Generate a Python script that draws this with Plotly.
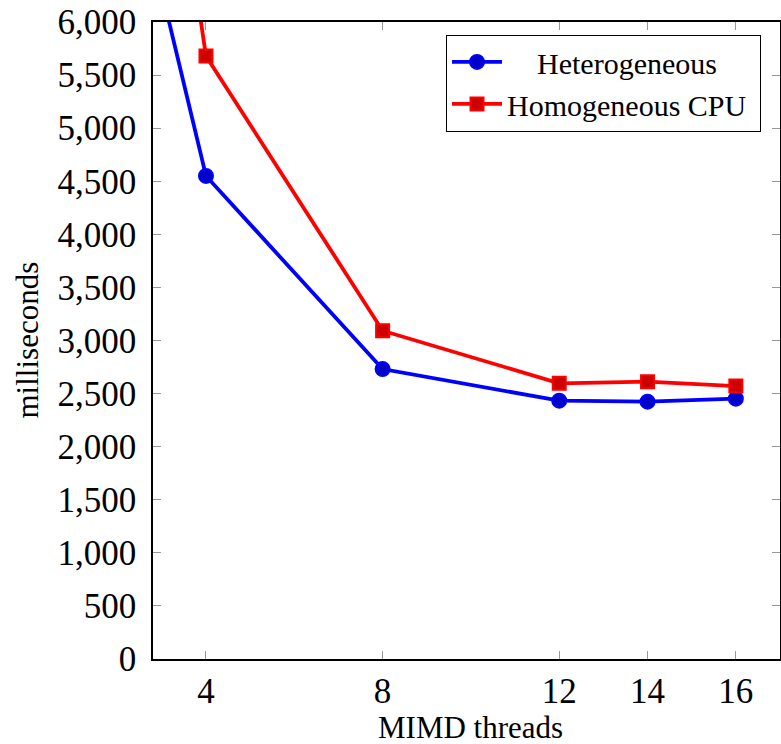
import plotly.graph_objects as go

threads = [2, 4, 8, 12, 14, 16]
heterogeneous = [8020, 4550, 2731, 2433, 2424, 2452]
homogeneous_cpu = [11300, 5680, 3092, 2597, 2612, 2571]
x_ticks = [4, 8, 12, 14, 16]
y_ticks = list(range(0, 6001, 500))
series_names = ["\u00a0\u00a0\u00a0\u00a0Heterogeneous", "Homogeneous CPU\u00a0"]
x_title = "MIMD threads"
y_title = "milliseconds"

FONT = "Liberation Serif"

fig = go.Figure()
fig.add_trace(go.Scatter(
    x=threads, y=heterogeneous, name=series_names[0], mode="lines+markers",
    line=dict(color="#0000ff", width=3.8),
    marker=dict(symbol="circle", size=14, color="#0000c8", line=dict(color="#0000ff", width=2)),
))
fig.add_trace(go.Scatter(
    x=threads, y=homogeneous_cpu, name=series_names[1], mode="lines+markers",
    line=dict(color="#ff0000", width=3.8),
    marker=dict(symbol="square", size=13, color="#cc0000", line=dict(color="#ff0000", width=2)),
))

axis_common = dict(
    showline=True, linecolor="black", linewidth=1.5, mirror="ticks",
    ticks="inside", ticklen=8, tickcolor="#999999", tickwidth=1.2,
    showgrid=False, zeroline=False, automargin=False, ticklabeloverflow="allow",
    tickfont=dict(family=FONT, size=35, color="black"),
)

fig.update_layout(
    width=781, height=744,
    margin=dict(l=153, r=1, t=22, b=85),
    paper_bgcolor="white", plot_bgcolor="white",
    font=dict(family=FONT, color="black"),
    xaxis=dict(
        range=[2.8, 17.0], tickvals=x_ticks, ticktext=[str(v) for v in x_ticks],
        **axis_common,
    ),
    yaxis=dict(
        range=[0, 6000], tickvals=y_ticks, tickformat=",",
        ticklabelstandoff=8,
        **axis_common,
    ),
    legend=dict(
        x=0.467, y=0.98, xanchor="left", yanchor="top",
        bordercolor="black", borderwidth=1.2, bgcolor="white",
        font=dict(family=FONT, size=30, color="black"),
        itemwidth=50, tracegroupgap=0,
    ),
    showlegend=True,
    annotations=[
        dict(text=x_title, xref="paper", yref="paper", x=0.507, y=0, yshift=-68,
             xanchor="center", yanchor="middle", showarrow=False,
             font=dict(family=FONT, size=31, color="black")),
        dict(text=y_title, xref="paper", yref="paper", x=0, y=0.5, xshift=-126,
             xanchor="center", yanchor="middle", textangle=-90, showarrow=False,
             font=dict(family=FONT, size=31, color="black")),
    ],
)

fig.write_html(
    "out.html",
    config={"displayModeBar": False},
    post_script="document.body.style.margin='0';document.body.style.overflow='hidden';",
)
